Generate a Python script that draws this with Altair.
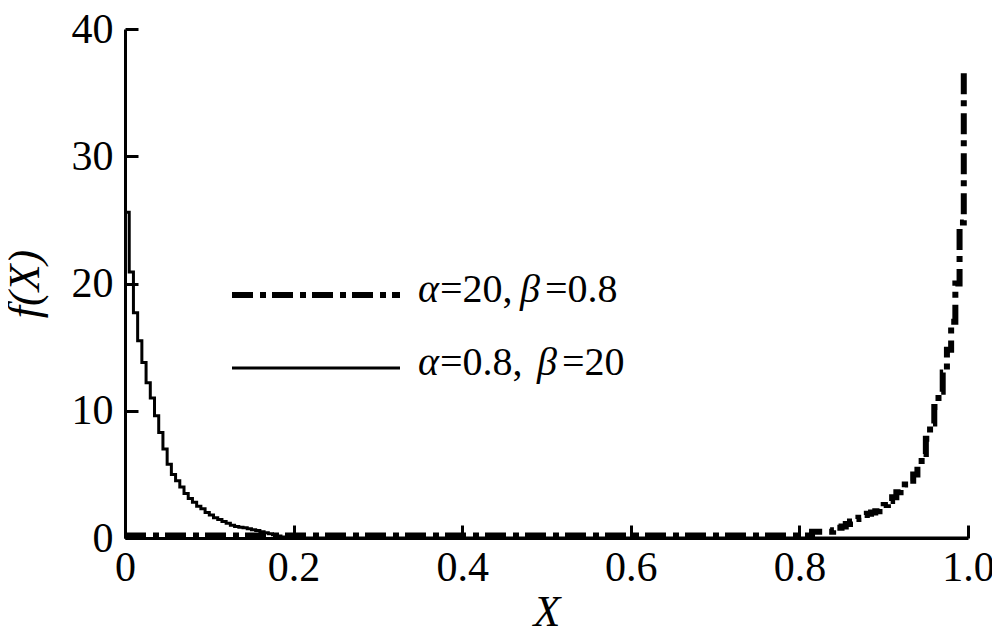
import altair as alt
import pandas as pd

# Beta(0.8, 20) histogram (solid)
solid_x = [0.000, 0.005, 0.010, 0.015, 0.020, 0.025, 0.030, 0.035, 0.040, 0.045,
           0.050, 0.055, 0.060, 0.065, 0.070, 0.075, 0.080, 0.085, 0.090, 0.095,
           0.100, 0.105, 0.110, 0.115, 0.120, 0.125, 0.130, 0.135, 0.140, 0.145,
           0.150, 0.155, 0.160, 0.165, 0.170, 0.175, 0.180, 0.185, 0.190, 1.000]
solid_y = [25.6, 20.9, 17.7, 15.5, 13.8, 12.2, 11.0, 9.6, 8.3, 7.0,
           5.8, 5.0, 4.5, 4.0, 3.5, 3.1, 2.8, 2.5, 2.3, 2.0,
           1.8, 1.6, 1.45, 1.3, 1.15, 1.0, 0.9, 0.85, 0.8, 0.72,
           0.65, 0.58, 0.5, 0.42, 0.34, 0.25, 0.15, 0.08, 0.0, 0.0]

# Beta(20, 0.8) histogram (dash-dot)
dash_x = [0.000, 0.800, 0.815, 0.835, 0.840, 0.845, 0.850, 0.855, 0.860, 0.865,
          0.870, 0.875, 0.880, 0.885, 0.890, 0.895, 0.900, 0.905, 0.910, 0.915,
          0.920, 0.925, 0.930, 0.935, 0.940, 0.945, 0.950, 0.955, 0.960, 0.965,
          0.970, 0.975, 0.980, 0.985, 0.990, 0.995]
dash_y = [0.2, 0.2, 0.5, 0.5, 0.6, 0.8, 0.9, 1.1, 1.3, 1.5,
          1.6, 1.8, 1.9, 2.0, 2.1, 2.3, 2.6, 2.9, 3.2, 3.6,
          3.9, 4.2, 4.5, 5.0, 5.7, 6.6, 7.8, 9.0, 10.3, 11.5,
          13.0, 14.8, 17.0, 20.0, 24.8, 36.9]

x_ticks = [0, 0.2, 0.4, 0.6, 0.8, 1.0]
y_ticks = [0, 10, 20, 30, 40]

FONT = "Liberation Serif"
W, H = 843, 509
DASH = [21, 7, 6, 6]

df_solid = pd.DataFrame({"x": solid_x, "y": solid_y})
df_dash = pd.DataFrame({"x": dash_x, "y": dash_y})

xs = alt.Scale(domain=[0, 1], nice=False, zero=False)
ys = alt.Scale(domain=[0, 40], nice=False)
inward = {"expr": "-13"}

x_axis = alt.Axis(
    values=x_ticks, title="X",
    labelExpr="datum.value == 0 ? '0' : format(datum.value, '.1f')",
    tickSize=inward, tickWidth=3, tickColor="black",
    domainWidth=3, domainColor="black",
    labelFont=FONT, labelFontSize=42, labelColor="black", labelPadding=22,
    labelFlush=False, labelOverlap=False, labelBound=False,
    titleFont=FONT, titleFontSize=44, titleFontStyle="italic", titleFontWeight="normal",
    titleColor="black", titlePadding=2, grid=False,
)
y_axis = alt.Axis(
    values=y_ticks, title="f(X)", format="d",
    tickSize=inward, tickWidth=3, tickColor="black",
    domainWidth=3, domainColor="black",
    labelFont=FONT, labelFontSize=42, labelColor="black", labelPadding=25,
    labelOverlap=False, labelBound=False,
    titleFont=FONT, titleFontSize=44, titleFontStyle="italic", titleFontWeight="normal",
    titleColor="black", titlePadding=24, grid=False,
)

solid = alt.Chart(df_solid).mark_line(
    interpolate="step-after", color="black", strokeWidth=3
).encode(
    x=alt.X("x:Q", scale=xs, axis=x_axis),
    y=alt.Y("y:Q", scale=ys, axis=y_axis),
)

dash = alt.Chart(df_dash).mark_line(
    interpolate="step-after", color="black", strokeWidth=6,
    strokeDash=DASH, strokeCap="butt"
).encode(x=alt.X("x:Q", scale=xs), y=alt.Y("y:Q", scale=ys))

one = pd.DataFrame({"a": [0]})
leg_dash = alt.Chart(one).mark_rule(
    color="black", strokeWidth=6, strokeDash=DASH, strokeCap="butt"
).encode(x=alt.value(107), x2=alt.value(275), y=alt.value(266))
leg_solid = alt.Chart(one).mark_rule(color="black", strokeWidth=3).encode(
    x=alt.value(107), x2=alt.value(275), y=alt.value(339))

pieces = [
    ("\u03b1", True, 293, 273), ("=20,", False, 315, 273),
    ("\u03b2", True, 395, 273), ("=0.8", False, 420, 273),
    ("\u03b1", True, 293, 346), ("=0.8,", False, 315, 346),
    ("\u03b2", True, 412, 346), ("=20", False, 437, 346),
]
texts = []
for t, ital, px, py in pieces:
    texts.append(
        alt.Chart(one).mark_text(
            text=t, font=FONT, fontSize=40, color="black",
            fontStyle="italic" if ital else "normal",
            align="left", baseline="alphabetic",
        ).encode(x=alt.value(px), y=alt.value(py))
    )

chart = alt.layer(solid, dash, leg_dash, leg_solid, *texts).properties(
    width=W, height=H,
    autosize=alt.AutoSizeParams(type="none"),
    padding={"left": 117, "top": 21, "right": 24, "bottom": 96},
    background="white",
).configure_view(stroke=None)

chart.save("out.html", embed_options={"renderer": "svg", "actions": False})
